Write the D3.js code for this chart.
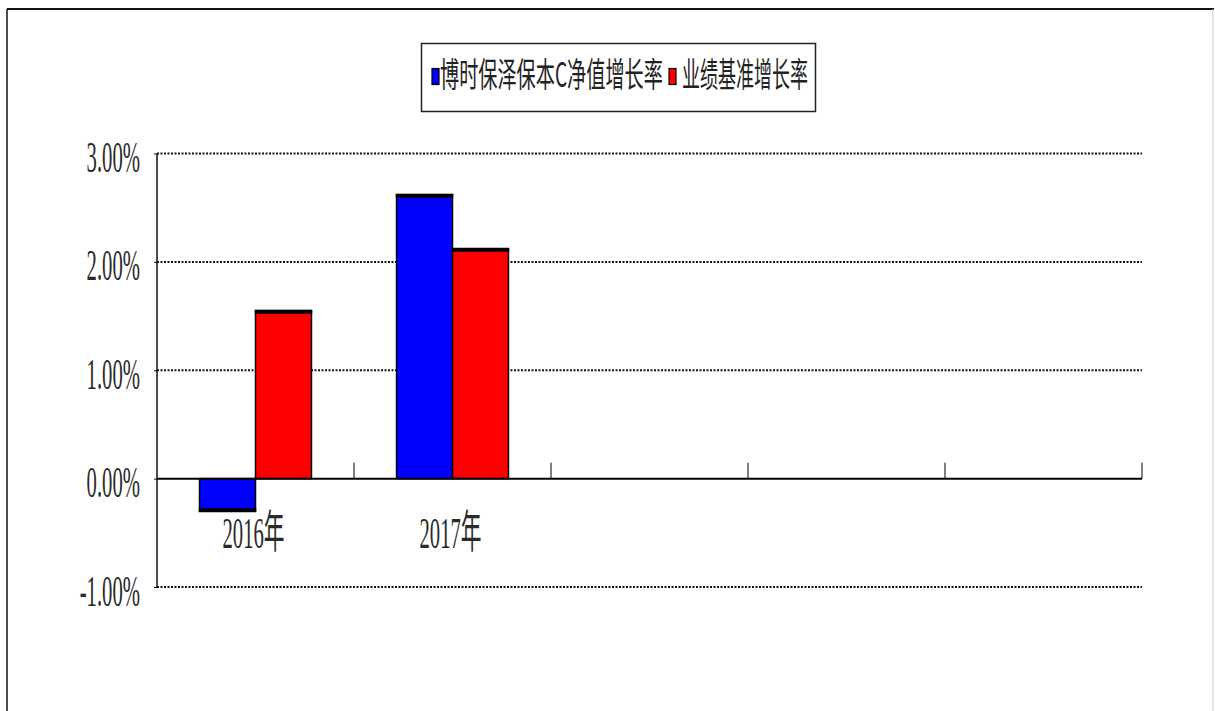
<!DOCTYPE html>
<html>
<head>
<meta charset="utf-8">
<script src="https://cdn.jsdelivr.net/npm/d3@7"></script>
<style>
  body { margin: 0; background: #fff; }
  #graf { width: 1215px; height: 711px; }
  .num { font-family: "Liberation Serif", "Noto Sans CJK SC", serif; fill: #2a2a2a; }
  .leyenda { font-family: "Noto Sans CJK SC", sans-serif; fill: #222; }
</style>
</head>
<body>
<div id="graf"></div>
<script>
// Datos
const categorias = ["2016年", "2017年"]
const series = ["博时保泽保本C净值增长率", "业绩基准增长率"]
const fondo = [-0.30, 2.62]
const referencia = [1.55, 2.12]
const yTicks = [-1, 0, 1, 2, 3]
const huecos = 5
const colores = ["#0000ff", "#ff0000"]

const data = categorias.map((c, i) => ({ cat: c, i, valores: [fondo[i], referencia[i]] }))

// Dimensiones
const anchoTotal = 1215
const altoTotal = 711
const margins = { top: 153.5, left: 157, right: 73, bottom: 124 }
const ancho = anchoTotal - margins.left - margins.right
const alto = altoTotal - margins.top - margins.bottom
const sx = 0.46

const svg = d3.select("#graf")
  .append("svg")
  .attr("width", anchoTotal)
  .attr("height", altoTotal)

// Marco exterior
svg.append("line").attr("x1", 7).attr("x2", 1214).attr("y1", 9).attr("y2", 9)
  .attr("stroke", "#111").attr("stroke-width", 2)
svg.append("line").attr("x1", 7).attr("x2", 7).attr("y1", 9).attr("y2", 711)
  .attr("stroke", "#111").attr("stroke-width", 1.5)
svg.append("line").attr("x1", 1213).attr("x2", 1213).attr("y1", 9).attr("y2", 711)
  .attr("stroke", "#ccc").attr("stroke-width", 1)

const g = svg.append("g").attr("transform", `translate(${margins.left}, ${margins.top})`)

// Escaladores
const x = d3.scaleBand().domain(d3.range(huecos)).range([0, ancho])
const xSub = d3.scaleBand().domain(d3.range(series.length))
  .range([0, x.bandwidth()]).paddingOuter(0.76)
const y = d3.scaleLinear().domain([-1, 3]).range([alto, 0])

// Rejilla
g.selectAll(".grid")
  .data(yTicks.filter((d) => d !== 0))
  .enter()
  .append("line")
  .attr("x1", 0)
  .attr("x2", ancho)
  .attr("y1", (d) => y(d))
  .attr("y2", (d) => y(d))
  .attr("stroke", "#111")
  .attr("stroke-width", 2)
  .attr("stroke-dasharray", "2,1.5")

// Eje Y
const yAxis = d3.axisLeft(y).tickValues(yTicks).tickSize(3)
  .tickFormat((d) => d.toFixed(2) + "%")
const yAxisGroup = g.append("g").call(yAxis)
yAxisGroup.select(".domain").attr("stroke", "#111").attr("stroke-width", 1.5)
  .attr("d", `M0,${y(3)}V${y(-1)}`)
yAxisGroup.selectAll("line").attr("stroke", "#111")
yAxisGroup.selectAll("text")
  .attr("class", "num")
  .attr("font-size", 45)
  .attr("x", -17 / sx)
  .attr("dy", "0.4em")
  .attr("transform", `scale(${sx},1)`)

// Barras
const grupos = g.selectAll(".grupo")
  .data(data)
  .enter()
  .append("g")
  .attr("transform", (d) => `translate(${x(d.i)}, 0)`)

const barras = grupos.selectAll("g")
  .data((d) => d.valores.map((v, k) => ({ v, k })))
  .enter()
  .append("g")

barras.append("rect")
  .attr("x", (d) => xSub(d.k))
  .attr("y", (d) => y(Math.max(0, d.v)))
  .attr("width", xSub.bandwidth())
  .attr("height", (d) => Math.abs(y(d.v) - y(0)))
  .attr("fill", (d) => colores[d.k])
  .attr("stroke", "#000")
  .attr("stroke-width", 1.5)

barras.append("line")
  .attr("x1", (d) => xSub(d.k) - 0.75)
  .attr("x2", (d) => xSub(d.k) + xSub.bandwidth() + 0.75)
  .attr("y1", (d) => y(d.v) + (d.v > 0 ? 1 : -1))
  .attr("y2", (d) => y(d.v) + (d.v > 0 ? 1 : -1))
  .attr("stroke", "#000")
  .attr("stroke-width", 4)

// Eje X
g.append("line")
  .attr("x1", 0).attr("x2", ancho)
  .attr("y1", y(0)).attr("y2", y(0))
  .attr("stroke", "#000").attr("stroke-width", 2)

g.selectAll(".tick-x")
  .data(d3.range(1, huecos + 1))
  .enter()
  .append("line")
  .attr("x1", (d) => d * x.step())
  .attr("x2", (d) => d * x.step())
  .attr("y1", y(0))
  .attr("y2", y(0) - 16)
  .attr("stroke", "#000")
  .attr("stroke-width", 1)

g.selectAll(".etiqueta")
  .data(data)
  .enter()
  .append("text")
  .attr("class", "num")
  .attr("font-size", 45)
  .attr("text-anchor", "middle")
  .attr("transform", (d) => `translate(${x(d.i) + x.bandwidth() / 2 - 2}, ${y(0) + 69}) scale(${sx},1)`)
  .text((d) => d.cat)

// Leyenda
const leyenda = svg.append("g")
leyenda.append("rect")
  .attr("x", 421.5).attr("y", 43.5)
  .attr("width", 394).attr("height", 68)
  .attr("fill", "#fff").attr("stroke", "#222").attr("stroke-width", 1.5)

const itemsLeyenda = [
  { nombre: series[0], sw: 432, tx: 440, largo: 223 },
  { nombre: series[1], sw: 669, tx: 682, largo: 126 },
]
itemsLeyenda.forEach((it, k) => {
  leyenda.append("rect")
    .attr("x", it.sw).attr("y", 68.5)
    .attr("width", 7).attr("height", 16)
    .attr("fill", colores[k]).attr("stroke", "#000").attr("stroke-width", 1.2)
  const t = leyenda.append("text")
    .attr("class", "leyenda")
    .attr("font-size", 34)
    .text(it.nombre)
  const natural = t.node().getComputedTextLength()
  t.attr("transform", `translate(${it.tx}, 87) scale(${it.largo / natural}, 1)`)
})
</script>
</body>
</html>
